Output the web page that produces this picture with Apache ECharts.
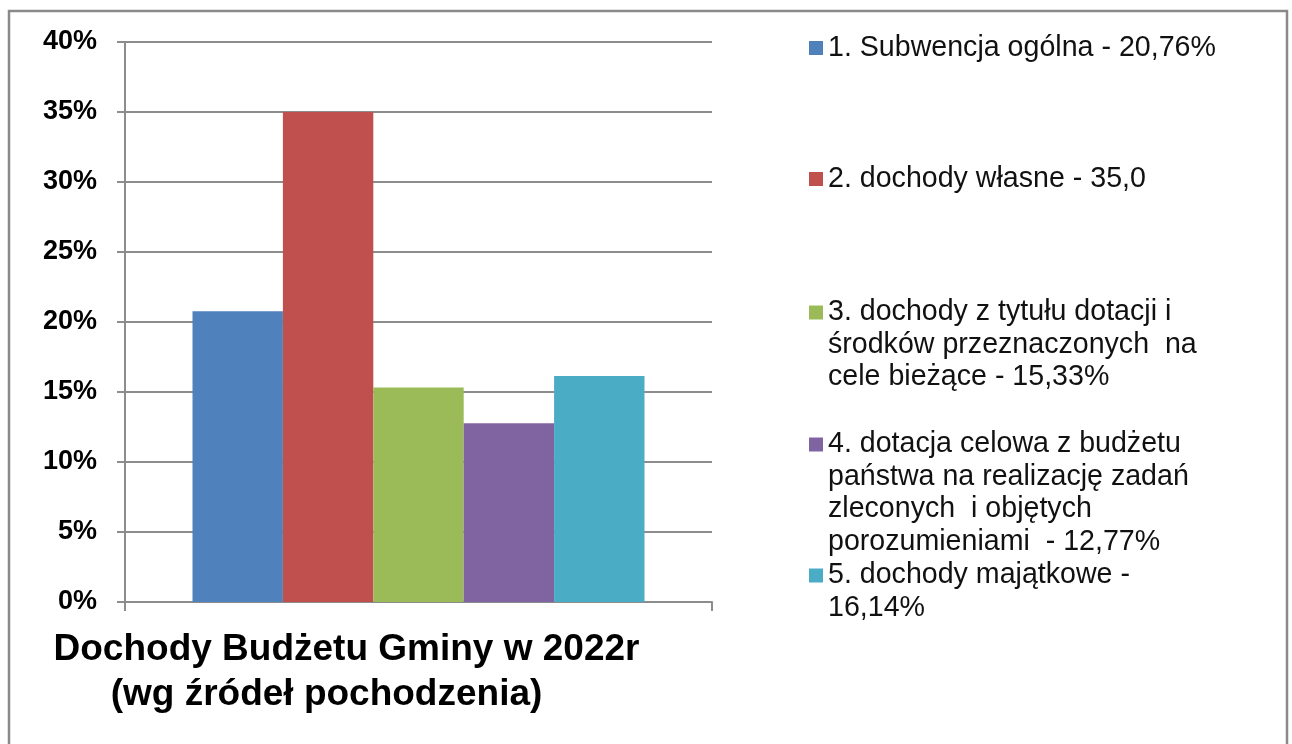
<!DOCTYPE html>
<html>
<head>
<meta charset="utf-8">
<script src="https://cdn.jsdelivr.net/npm/echarts@6/dist/echarts.min.js"></script>
<style>
html,body{margin:0;padding:0;background:#fff;}
#chart{width:1292px;height:744px;}
</style>
</head>
<body>
<div id="chart"></div>
<script>
// ---- data ----
const categories = ['Dochody Budżetu Gminy w 2022r (wg źródeł pochodzenia)'];
const categoryLines = ['Dochody Budżetu Gminy w 2022r', '(wg źródeł pochodzenia)'];
const seriesNames = [
  '1. Subwencja ogólna - 20,76%',
  '2. dochody własne - 35,0',
  '3. dochody z tytułu dotacji i środków przeznaczonych  na cele bieżące - 15,33%',
  '4. dotacja celowa z budżetu państwa na realizację zadań zleconych  i objętych porozumieniami  - 12,77%',
  '5. dochody majątkowe - 16,14%'
];
const legendLines = [
  ['1. Subwencja ogólna - 20,76%'],
  ['2. dochody własne - 35,0'],
  ['3. dochody z tytułu dotacji i', 'środków przeznaczonych  na', 'cele bieżące - 15,33%'],
  ['4. dotacja celowa z budżetu', 'państwa na realizację zadań', 'zleconych  i objętych', 'porozumieniami  - 12,77%'],
  ['5. dochody majątkowe -', '16,14%']
];
const seriesValues = [20.76, 35.0, 15.33, 12.77, 16.14];
const yTicks = { min: 0, max: 40, interval: 5 };

// ---- styles ----
const colors = ['#4F81BD', '#C0504D', '#9BBB59', '#8064A2', '#4BACC6'];
const FONT = '"Liberation Sans", Arial, sans-serif';
const GRID = '#8c8c8c';
const LH = 32.5;
const iconCenters = [48, 179, 312.5, 444.5, 575.5];

const chart = echarts.init(document.getElementById('chart'), null, {renderer: 'canvas'});

const legends = seriesNames.map((name, i) => {
  const lines = legendLines[i];
  const n = lines.length;
  // leading blank lines keep the icon level with the first text line
  const blanks = new Array(n - 1).fill(' ');
  const text = blanks.concat(lines).join('\n');
  return {
    data: [name],
    left: 809,
    top: iconCenters[i] - (2 * n - 1) * LH / 2,
    padding: 0,
    orient: 'vertical',
    icon: 'rect',
    itemWidth: 14,
    itemHeight: 14,
    selectedMode: false,
    formatter: () => text,
    textStyle: {
      fontFamily: FONT,
      fontSize: 28.6,
      color: '#111',
      lineHeight: LH
    }
  };
});

const option = {
  backgroundColor: '#fff',
  animation: false,
  graphic: [{
    type: 'rect',
    shape: { x: 9, y: 11, width: 1278, height: 760 },
    style: { fill: 'none', stroke: '#8a8a8a', lineWidth: 2.5 },
    silent: true
  }],
  legend: legends,
  grid: { left: 125, right: 580, top: 42, bottom: 142, containLabel: false },
  xAxis: {
    type: 'category',
    data: categories,
    axisLine: { show: true, lineStyle: { color: GRID, width: 2 } },
    axisTick: { show: true, length: 9, lineStyle: { color: GRID, width: 2 } },
    splitLine: { show: false },
    axisLabel: {
      margin: 25,
      align: 'center',
      padding: [0, 144, 0, 0],
      formatter: () => '{a|' + categoryLines[0] + '}\n{b|' + categoryLines[1] + '}',
      rich: {
        a: { fontFamily: FONT, fontSize: 37, fontWeight: 'bold', color: '#000', lineHeight: 45 },
        b: { fontFamily: FONT, fontSize: 37, fontWeight: 'bold', color: '#000', lineHeight: 45, padding: [0, 40, 0, 0] }
      }
    }
  },
  yAxis: {
    type: 'value',
    min: yTicks.min,
    max: yTicks.max,
    interval: yTicks.interval,
    axisLine: { show: true, lineStyle: { color: GRID, width: 2 } },
    axisTick: { show: true, length: 8, lineStyle: { color: GRID, width: 2 } },
    splitLine: { show: true, lineStyle: { color: GRID, width: 2 } },
    axisLabel: {
      formatter: '{value}%',
      margin: 28,
      fontFamily: FONT,
      fontSize: 27,
      fontWeight: 'bold',
      color: '#000'
    }
  },
  series: seriesNames.map((name, i) => ({
    name: name,
    type: 'bar',
    data: [seriesValues[i]],
    barGap: '0%',
    barCategoryGap: '23%',
    itemStyle: { color: colors[i] },
    emphasis: { disabled: true }
  }))
};
chart.setOption(option);
</script>
</body>
</html>
